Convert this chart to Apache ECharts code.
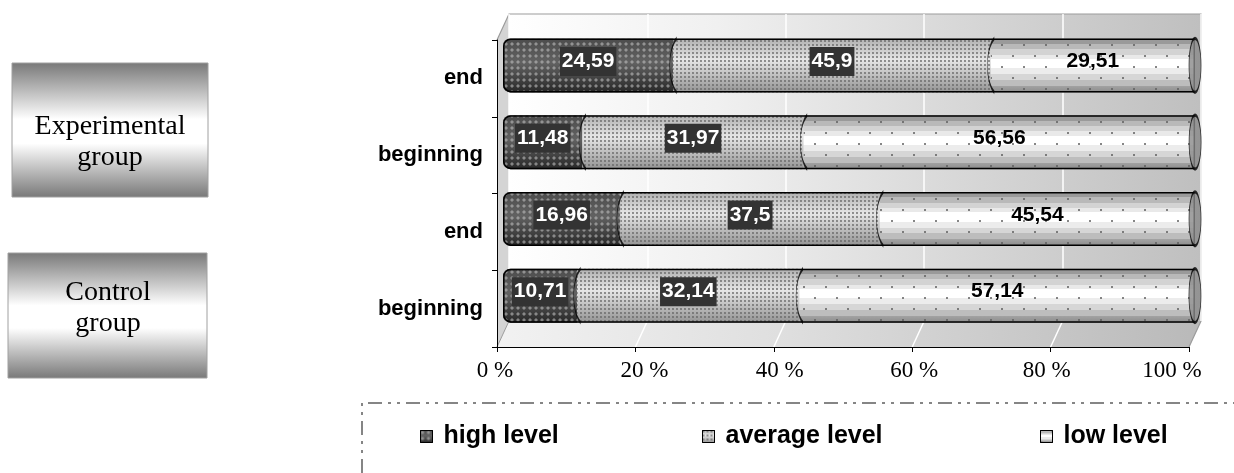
<!DOCTYPE html>
<html>
<head>
<meta charset="utf-8">
<script src="https://cdn.jsdelivr.net/npm/echarts@6/dist/echarts.min.js"></script>
<style>
  html, body { margin: 0; padding: 0; background: #fff; }
  #chart { width: 1234px; height: 473px; }
</style>
</head>
<body>
<div id="chart"></div>
<script>
// Categories listed bottom-to-top: control group (beginning, end), experimental group (beginning, end)
const categories = ['beginning', 'end', 'beginning', 'end'];
const seriesNames = ['high level', 'average level', 'low level'];
const highLevel = [10.71, 16.96, 11.48, 24.59];
const averageLevel = [32.14, 37.5, 31.97, 45.9];
const lowLevel = [57.14, 45.54, 56.56, 29.51];
const percentTicks = [0, 20, 40, 60, 80, 100];

const LG = echarts.graphic.LinearGradient;

// frame geometry of the pseudo-3D plot box
const FR = { left: 497, right: 1189, top: 40, bottom: 347, dx: 12, dy: -26 };
const W = FR.right - FR.left;

const totals = categories.map((_, i) => highLevel[i] + averageLevel[i] + lowLevel[i]);
const highEnds = categories.map((_, i) => [highLevel[i], i]);
const avgEnds = categories.map((_, i) => [highLevel[i] + averageLevel[i], i]);
const caps = categories.map((_, i) => [totals[i], i]);

const fmt = p => String(p.value).replace('.', ',');

const darkLabel = {
  show: true, position: 'inside', formatter: fmt, offset: [0, -4],
  color: '#fff', fontFamily: 'Liberation Sans', fontWeight: 'bold', fontSize: 21,
  backgroundColor: '#333', padding: [5, 2, 3, 2]
};

// back wall, side wall, floor
const wallGrad = new LG(0, 0, 1, 0, [
  { offset: 0, color: '#ffffff' }, { offset: 0.3, color: '#f0f0f0' },
  { offset: 0.6, color: '#dbdbdb' }, { offset: 1, color: '#bfbfbf' }
]);
const floorGrad = new LG(0, 0, 1, 0, [
  { offset: 0, color: '#f2f2f2' }, { offset: 0.4, color: '#dfdfdf' },
  { offset: 1, color: '#b9b9b9' }
]);
const bx0 = FR.left + FR.dx, by0 = FR.top + FR.dy, bx1 = FR.right + FR.dx, by1 = FR.bottom + FR.dy;

const graphics = [
  { type: 'rect', z: -5, shape: { x: bx0, y: by0, width: bx1 - bx0, height: by1 - by0 }, style: { fill: wallGrad } },
  { type: 'polygon', z: -5, shape: { points: [[FR.left, FR.top], [bx0, by0], [bx0, by1], [FR.left, FR.bottom]] }, style: { fill: '#d4d4d4' } },
  { type: 'polygon', z: -5, shape: { points: [[FR.left, FR.bottom], [bx0, by1], [bx1, by1], [FR.right, FR.bottom]] }, style: { fill: floorGrad } },
  { type: 'polyline', z: -4, shape: { points: [[FR.left, FR.top], [bx0, by0], [bx1, by0], [bx1, by1], [FR.right, FR.bottom]] }, style: { stroke: '#9c9c9c', lineWidth: 1.2, fill: null } },
  { type: 'line', z: -4, shape: { x1: FR.left, y1: FR.bottom, x2: bx0, y2: by1 }, style: { stroke: '#9c9c9c', lineWidth: 1 } }
];
percentTicks.slice(1, -1).forEach(t => {
  const x = FR.left + W * t / 100;
  graphics.push({ type: 'line', z: -4, shape: { x1: x, y1: FR.bottom, x2: x + FR.dx, y2: by1 }, style: { stroke: '#ffffff', lineWidth: 1.5 } });
});

// group boxes on the left
const boxGrad = () => new LG(0, 0, 0, 1, [
  { offset: 0, color: '#787878' }, { offset: 0.42, color: '#ffffff' },
  { offset: 0.6, color: '#ffffff' }, { offset: 1, color: '#787878' }
]);
graphics.push(
  { type: 'rect', shape: { x: 12, y: 63, width: 196, height: 134 }, style: { fill: boxGrad(), stroke: '#a0a0a0', lineWidth: 1 } },
  { type: 'text', x: 110, y: 142, style: { text: 'Experimental\ngroup', font: '28px "Liberation Serif"', fill: '#000', align: 'center', verticalAlign: 'middle', lineHeight: 31 } },
  { type: 'rect', shape: { x: 8, y: 253, width: 199, height: 125 }, style: { fill: boxGrad(), stroke: '#a0a0a0', lineWidth: 1 } },
  { type: 'text', x: 108, y: 308, style: { text: 'Control\ngroup', font: '28px "Liberation Serif"', fill: '#000', align: 'center', verticalAlign: 'middle', lineHeight: 31 } }
);

// dash-dot frame around the legend
const LX = 362;
graphics.push({
  type: 'polyline', shape: { points: [[LX, 473], [LX, 403], [1234, 403]] },
  style: { stroke: '#858585', lineWidth: 2, fill: null, lineDash: [14, 6, 3, 6, 3, 6] }
});

const legendText = { fontFamily: 'Liberation Sans', fontWeight: 'bold', fontSize: 25, color: '#000', padding: [0, 0, 0, 6] };
const legendCommon = {
  top: 424, itemWidth: 12, itemHeight: 12, padding: 0, icon: 'rect',
  itemStyle: { borderColor: '#000', borderWidth: 1 }, textStyle: legendText, selectedMode: false
};

// percent tick labels sit slightly off their ticks
const tickFont = { fontFamily: 'Liberation Serif', fontSize: 23, color: '#000' };
const tickRich = {
  p0: Object.assign({ padding: [0, 4, 0, 0] }, tickFont),
  p20: Object.assign({ padding: [0, 0, 0, 18] }, tickFont),
  p40: Object.assign({ padding: [0, 0, 0, 12] }, tickFont),
  p60: Object.assign({ padding: [0, 0, 0, 4] }, tickFont),
  p80: Object.assign({ padding: [0, 8, 0, 0] }, tickFont),
  p100: Object.assign({ padding: [0, 34, 0, 0] }, tickFont)
};

const option = {
  animation: false,
  backgroundColor: '#fff',
  graphic: graphics,
  grid: [
    { left: bx0, right: 1234 - bx1, top: by0, bottom: 473 - by1 },
    { left: FR.left, right: 1234 - FR.right, top: FR.top, bottom: 473 - FR.bottom },
    { left: FR.left + FR.dx / 2, right: 1234 - FR.right - FR.dx / 2, top: FR.top + FR.dy / 2, bottom: 473 - FR.bottom - FR.dy / 2 }
  ],
  xAxis: [
    { gridIndex: 0, type: 'value', min: 0, max: 100, interval: 20, z: -3,
      axisLine: { show: false }, axisTick: { show: false }, axisLabel: { show: false },
      splitLine: { show: true, lineStyle: { color: '#ffffff', width: 1.5 } } },
    { gridIndex: 1, type: 'value', min: 0, max: 100, interval: 20,
      axisLine: { show: true, lineStyle: { color: '#000', width: 1 } },
      axisTick: { show: true, length: 5, lineStyle: { color: '#000' } },
      axisLabel: { formatter: v => '{p' + v + '|' + v + ' %}', rich: tickRich,
        fontFamily: 'Liberation Serif', fontSize: 23, color: '#000', margin: 12 },
      splitLine: { show: false } },
    { gridIndex: 2, type: 'value', min: 0, max: 100, show: false, splitLine: { show: false } }
  ],
  yAxis: [
    { gridIndex: 0, type: 'category', data: categories, show: false },
    { gridIndex: 1, type: 'category', data: categories,
      axisLine: { show: true, lineStyle: { color: '#000', width: 1 } },
      axisTick: { show: true, length: 5, lineStyle: { color: '#000' } },
      axisLabel: { fontFamily: 'Liberation Sans', fontWeight: 'bold', fontSize: 22, color: '#000', margin: 14 } },
    { gridIndex: 2, type: 'category', data: categories, show: false }
  ],
  legend: [
    Object.assign({ left: 420, data: [seriesNames[0]] }, legendCommon),
    Object.assign({ left: 702, data: [seriesNames[1]] }, legendCommon),
    Object.assign({ left: 1040, data: [seriesNames[2]] }, legendCommon)
  ],
  series: [
    { name: seriesNames[0], type: 'bar', xAxisIndex: 2, yAxisIndex: 2, stack: 'level', barWidth: 54,
      data: highLevel,
      itemStyle: {
        color: new LG(0, 0, 0, 1, [{ offset: 0, color: '#4c4c4c' }, { offset: 0.45, color: '#626262' }, { offset: 1, color: '#282828' }]),
        borderWidth: 0, borderRadius: [7, 0, 0, 7],
        decal: { symbol: 'diamond', symbolSize: 1, dashArrayX: [4, 2], dashArrayY: [4, 2], color: 'rgba(190,190,190,0.6)' }
      },
      label: darkLabel },
    { name: seriesNames[1], type: 'bar', xAxisIndex: 2, yAxisIndex: 2, stack: 'level', barWidth: 54,
      data: averageLevel,
      itemStyle: {
        color: new LG(0, 0, 0, 1, [{ offset: 0, color: '#b0b0b0' }, { offset: 0.4, color: '#e6e6e6' }, { offset: 1, color: '#949494' }]),
        borderWidth: 0,
        decal: { symbol: 'circle', symbolSize: 0.9, dashArrayX: [2, 2], dashArrayY: [2, 2], color: '#666666' }
      },
      label: darkLabel },
    { name: seriesNames[2], type: 'bar', xAxisIndex: 2, yAxisIndex: 2, stack: 'level', barWidth: 54,
      data: lowLevel,
      itemStyle: {
        color: new LG(0, 0, 0, 1, [
          { offset: 0, color: '#9a9a9a' }, { offset: 0.1, color: '#9a9a9a' },
          { offset: 0.1, color: '#b9b9b9' }, { offset: 0.2, color: '#b9b9b9' },
          { offset: 0.2, color: '#d3d3d3' }, { offset: 0.3, color: '#d3d3d3' },
          { offset: 0.3, color: '#e9e9e9' }, { offset: 0.38, color: '#e9e9e9' },
          { offset: 0.38, color: '#ffffff' }, { offset: 0.55, color: '#ffffff' },
          { offset: 0.55, color: '#ececec' }, { offset: 0.66, color: '#ececec' },
          { offset: 0.66, color: '#d6d6d6' }, { offset: 0.77, color: '#d6d6d6' },
          { offset: 0.77, color: '#bdbdbd' }, { offset: 0.88, color: '#bdbdbd' },
          { offset: 0.88, color: '#a2a2a2' }, { offset: 1, color: '#8c8c8c' }
        ]),
        borderWidth: 0,
        decal: { symbol: 'circle', symbolSize: 1, dashArrayX: [[2, 20], [0, 11, 2, 9]], dashArrayY: [2, 8.5], color: '#5e5e5e' }
      },
      label: { show: true, position: 'inside', formatter: fmt, offset: [0, -4],
        color: '#000', fontFamily: 'Liberation Sans', fontWeight: 'bold', fontSize: 21 } },
    // outline of each cylinder
    { type: 'bar', xAxisIndex: 2, yAxisIndex: 2, barWidth: 54, barGap: '-100%', z: 3, silent: true,
      data: totals,
      itemStyle: { color: 'rgba(0,0,0,0)', borderColor: '#000', borderWidth: 1.5, borderRadius: [7, 0, 0, 7] } },
    // curved seams between segments
    { type: 'scatter', xAxisIndex: 2, yAxisIndex: 2, z: 4, silent: true,
      data: highEnds.concat(avgEnds),
      symbol: 'path://M8,0 C1,12 1,42 8,54', symbolSize: [7, 54],
      itemStyle: { color: 'rgba(0,0,0,0)', borderColor: '#000', borderWidth: 1.3 } },
    // right end caps
    { type: 'scatter', xAxisIndex: 2, yAxisIndex: 2, z: 5, silent: true,
      data: caps, symbol: 'circle', symbolSize: [12, 54],
      itemStyle: { color: '#8a8a8a', borderColor: '#000', borderWidth: 1.5 } }
  ]
};

const chart = echarts.init(document.getElementById('chart'), null, { renderer: 'canvas' });
chart.setOption(option);
</script>
</body>
</html>
